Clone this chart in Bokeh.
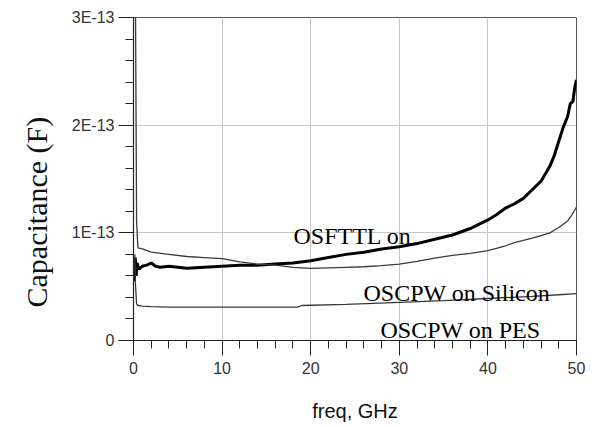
import math
from bokeh.plotting import figure
from bokeh.models import Range1d, FixedTicker, CustomJSTickFormatter, Label, Title
from bokeh.embed import file_html
from bokeh.resources import INLINE

# ---- data (capacitance in units of 1E-13 F) ----
freq_osfttl = [0.1, 0.2, 0.3, 0.4, 0.6, 1.0, 1.5, 2.0, 2.5, 3, 4, 5, 6, 8, 10, 12, 14, 16, 18,
               20, 22, 24, 26, 28, 30, 32, 34, 36, 38, 40, 41, 42, 43, 44, 45, 46, 47, 47.5,
               48, 48.5, 49, 49.3, 49.6, 49.8, 50]
cap_osfttl = [0.55, 0.77, 0.60, 0.72, 0.66, 0.69, 0.70, 0.72, 0.69, 0.68, 0.69, 0.68, 0.67, 0.68,
              0.69, 0.70, 0.70, 0.71, 0.72, 0.74, 0.77, 0.80, 0.82, 0.85, 0.87, 0.90, 0.94, 0.98,
              1.04, 1.12, 1.17, 1.23, 1.27, 1.32, 1.40, 1.48, 1.62, 1.72, 1.85, 1.98, 2.08, 2.20,
              2.22, 2.35, 2.42]

freq_si = [0.2, 0.35, 0.5, 1, 2, 4, 6, 8, 10, 12, 14, 16, 18, 20, 22, 24, 26, 28, 30, 32, 34,
           36, 38, 40, 42, 43, 44, 45, 46, 47, 48, 49, 49.5, 50]
cap_si = [3.5, 1.1, 0.86, 0.85, 0.82, 0.80, 0.78, 0.77, 0.76, 0.73, 0.71, 0.70, 0.68, 0.67,
          0.675, 0.68, 0.685, 0.695, 0.71, 0.735, 0.765, 0.79, 0.81, 0.835, 0.88, 0.91, 0.93,
          0.95, 0.975, 1.0, 1.05, 1.11, 1.17, 1.24]

freq_pes = [0.15, 0.2, 0.35, 0.5, 1, 2, 4, 10, 18.5, 19, 24, 30, 35, 40, 45, 48, 50]
cap_pes = [0.80, 0.55, 0.34, 0.325, 0.32, 0.315, 0.31, 0.31, 0.31, 0.325, 0.335, 0.355, 0.37,
           0.39, 0.41, 0.425, 0.435]

SCALE = 1e-13
x_ticks = [0, 10, 20, 30, 40, 50]
y_ticks = [0, 1, 2, 3]

labels = ["OSFTTL on", "OSCPW on Silicon", "OSCPW on PES"]

p = figure(width=594, height=427, output_backend="svg", toolbar_location=None,
           x_range=Range1d(0, 50), y_range=Range1d(0, 3 * SCALE),
           min_border_left=133, min_border_right=18, min_border_top=17, min_border_bottom=87)

p.background_fill_color = "white"
p.border_fill_color = "white"
p.outline_line_color = "#555555"
p.outline_line_width = 1

p.line(freq_osfttl, [v * SCALE for v in cap_osfttl], line_color="black", line_width=3)
p.line(freq_si, [v * SCALE for v in cap_si], line_color="#3a3a3a", line_width=1.3)
p.line(freq_pes, [v * SCALE for v in cap_pes], line_color="#3a3a3a", line_width=1.3)

# axes
p.xaxis.ticker = FixedTicker(ticks=x_ticks, minor_ticks=[m for m in range(0, 51, 2)])
p.yaxis.ticker = FixedTicker(ticks=[t * SCALE for t in y_ticks],
                             minor_ticks=[k * 0.2 * SCALE for k in range(0, 16)])
p.yaxis.formatter = CustomJSTickFormatter(
    code="return tick == 0 ? '0' : Math.round(tick / 1e-13) + 'E-13';")

for ax in (p.xaxis[0], p.yaxis[0]):
    ax.axis_line_color = "#222222"
    ax.axis_line_width = 1.2
    ax.major_tick_line_color = "#222222"
    ax.minor_tick_line_color = "#222222"
    ax.major_tick_out = 15
    ax.major_tick_in = 0
    ax.minor_tick_out = 8
    ax.minor_tick_in = 0
    ax.major_label_text_font = "Liberation Sans"
    ax.major_label_text_font_size = "16px"
    ax.major_label_text_color = "#333333"

p.xaxis.major_label_standoff = 6
p.yaxis.major_label_standoff = 4
p.xaxis.axis_label = "freq, GHz"
p.xaxis.axis_label_text_font = "Liberation Sans"
p.xaxis.axis_label_text_font_size = "20px"
p.xaxis.axis_label_text_font_style = "normal"
p.xaxis.axis_label_text_color = "#111111"
p.xaxis.axis_label_standoff = 23

p.grid.grid_line_color = "#c8c8c8"
p.grid.grid_line_width = 1

# y-axis title, placed left of the axis
p.add_layout(Title(text="Capacitance (F)", align="left", offset=33, standoff=32,
                   text_font="Liberation Serif", text_font_size="30px",
                   text_font_style="normal", text_color="#111111"), "left")

# curve labels
p.add_layout(Label(x=18.06, y=0.97 * SCALE, text=labels[0], text_font="Liberation Serif",
                   text_font_size="24px", text_color="black", text_baseline="alphabetic"))
p.add_layout(Label(x=25.96, y=0.445 * SCALE, text=labels[1], text_font="Liberation Serif",
                   text_font_size="24px", text_color="black", text_baseline="alphabetic"))
p.add_layout(Label(x=27.88, y=0.102 * SCALE, text=labels[2], text_font="Liberation Serif",
                   text_font_size="24px", text_color="black", text_baseline="alphabetic"))

open("out.html", "w").write(file_html(p, INLINE))
